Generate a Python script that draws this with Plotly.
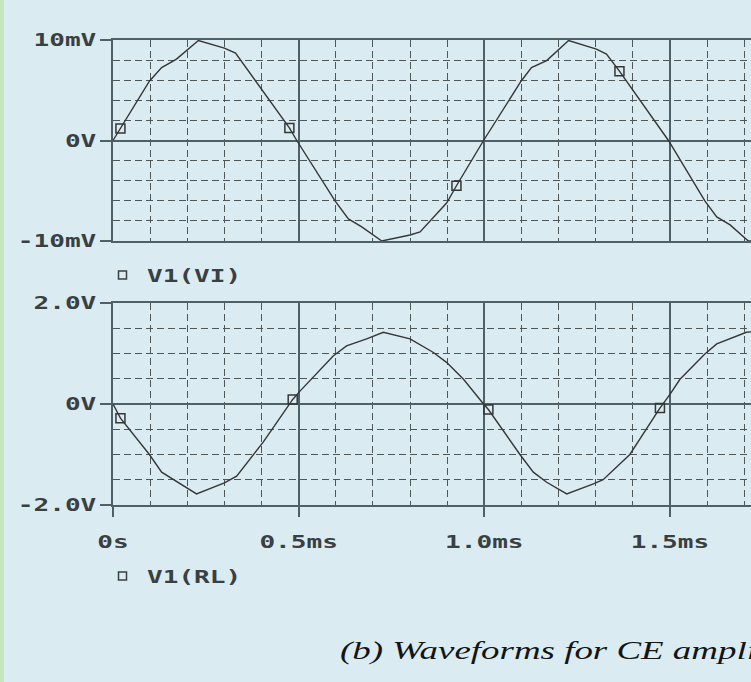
import plotly.graph_objects as go

# ---- data (time in ms) ----
t_vi = [0.000, 0.020, 0.098, 0.131, 0.171, 0.230, 0.300, 0.330, 0.475, 0.495,
        0.598, 0.634, 0.670, 0.724, 0.800, 0.827, 0.899, 0.925, 0.998,
        1.099, 1.127, 1.168, 1.227, 1.302, 1.329, 1.364, 1.496, 1.594,
        1.626, 1.662, 1.711, 1.720]
v_vi = [0.0, 1.2, 5.9, 7.25, 8.1, 9.95, 9.2, 8.7, 1.25, 0.0,
        -6.0, -7.8, -8.6, -10.0, -9.4, -9.1, -6.2, -4.5, 0.0,
        5.9, 7.25, 7.95, 9.95, 9.1, 8.6, 6.9, 0.0, -6.0,
        -7.6, -8.4, -10.0, -10.0]
mk_t_vi = [0.020, 0.475, 0.925, 1.364]
mk_v_vi = [1.2, 1.25, -4.5, 6.9]

t_rl = [0.000, 0.020, 0.098, 0.131, 0.225, 0.300, 0.333, 0.405, 0.484, 0.503,
        0.593, 0.629, 0.683, 0.728, 0.800, 0.863, 0.899, 0.944, 0.998,
        1.011, 1.096, 1.132, 1.168, 1.222, 1.294, 1.320, 1.392, 1.473,
        1.500, 1.527, 1.594, 1.626, 1.706, 1.720]
v_rl = [0.0, -0.28, -1.0, -1.35, -1.78, -1.56, -1.43, -0.75, 0.09, 0.25,
        0.95, 1.15, 1.29, 1.42, 1.29, 1.02, 0.82, 0.49, 0.0,
        -0.11, -1.0, -1.35, -1.55, -1.78, -1.58, -1.5, -1.0, -0.08,
        0.19, 0.49, 0.99, 1.19, 1.42, 1.43]
mk_t_rl = [0.020, 0.484, 1.011, 1.473]
mk_v_rl = [-0.28, 0.09, -0.11, -0.08]

x_tickvals = [0, 0.5, 1.0, 1.5]
x_ticktext = ["0s", "0.5ms", "1.0ms", "1.5ms"]
y1_tickvals = [-10, 0, 10]
y1_ticktext = ["-10mV", "0V", "10mV"]
y2_tickvals = [-2, 0, 2]
y2_ticktext = ["-2.0V", "0V", "2.0V"]
legend_names = ["V1(VI)", "V1(RL)"]
caption = "(b) Waveforms for CE amplifier"

# ---- styling ----
W, H = 751, 682
BG = "#daecf2"
SOLID = "#4e6168"
DASH = "#4f5858"
TRACE = "#363636"
TXT = "#3a3f41"
MONO = "DejaVu Sans Mono"

XL = 113 / W
x_range = [0, (W - XL * W) / 371.3]

def py(p):
    return 1 - p / H

fig = go.Figure()
fig.add_trace(go.Scatter(x=t_vi, y=v_vi, mode="lines", line=dict(color=TRACE, width=1.4),
                         xaxis="x", yaxis="y", showlegend=False, hoverinfo="skip"))
fig.add_trace(go.Scatter(x=mk_t_vi, y=mk_v_vi, mode="markers",
                         marker=dict(symbol="square-open", size=9, color=TRACE, line=dict(width=1.5)),
                         xaxis="x", yaxis="y", showlegend=False, hoverinfo="skip"))
fig.add_trace(go.Scatter(x=t_rl, y=v_rl, mode="lines", line=dict(color=TRACE, width=1.4),
                         xaxis="x2", yaxis="y2", showlegend=False, hoverinfo="skip"))
fig.add_trace(go.Scatter(x=mk_t_rl, y=mk_v_rl, mode="markers",
                         marker=dict(symbol="square-open", size=9, color=TRACE, line=dict(width=1.5)),
                         xaxis="x2", yaxis="y2", showlegend=False, hoverinfo="skip"))

def xax(show_labels):
    d = dict(domain=[XL, 1], range=x_range, tickvals=x_tickvals, ticktext=x_ticktext,
             showticklabels=show_labels, showgrid=True, gridcolor=SOLID, gridwidth=1.6,
             zeroline=False, showline=True, linecolor=SOLID, linewidth=2, mirror=True,
             automargin=False,
             minor=dict(dtick=0.1, tick0=0, showgrid=True, gridcolor=DASH, gridwidth=1.4,
                        griddash="7px,4px", ticks=""),
             fixedrange=True)
    if show_labels:
        d.update(ticks="outside", ticklen=10, tickwidth=1.6, tickcolor=SOLID,
                 tickfont=dict(family=MONO, size=18, color=TXT, weight="bold"),
                 ticklabelstandoff=9)
    else:
        d.update(ticks="")
    return d

def yax(dom, rng, tv, tt, mdt, anchor):
    return dict(domain=dom, range=rng, tickvals=tv, ticktext=tt, anchor=anchor,
                showgrid=True, gridcolor=SOLID, gridwidth=1.6,
                zeroline=True, zerolinecolor=SOLID, zerolinewidth=1.6,
                showline=True, linecolor=SOLID, linewidth=2, automargin=False,
                ticks="outside", ticklen=11, tickwidth=1.6, tickcolor=SOLID,
                tickfont=dict(family=MONO, size=18, color=TXT, weight="bold"),
                ticklabelstandoff=0,
                minor=dict(dtick=mdt, tick0=0, showgrid=True, gridcolor=DASH, gridwidth=1.4,
                           griddash="7px,4px", ticks=""),
                fixedrange=True)

fig.update_layout(
    width=W, height=H, autosize=False,
    margin=dict(l=0, r=0, t=0, b=0, pad=0, autoexpand=False),
    paper_bgcolor=BG, plot_bgcolor=BG,
    xaxis=xax(False) | dict(anchor="y"),
    yaxis=yax([py(241), py(40)], [-10, 10], y1_tickvals, y1_ticktext, 2, "x"),
    xaxis2=xax(True) | dict(anchor="y2"),
    yaxis2=yax([py(505), py(303)], [-2, 2], y2_tickvals, y2_ticktext, 0.5, "x2"),
    showlegend=False,
)

# legend-like labels
for name, ypix in zip(legend_names, [275, 576]):
    fig.add_shape(type="rect", xref="paper", yref="paper",
                  xsizemode="pixel", ysizemode="pixel",
                  xanchor=122.5 / W, yanchor=py(ypix),
                  x0=-4, x1=4, y0=-4, y1=4,
                  line=dict(color=TXT, width=1.5), fillcolor="rgba(0,0,0,0)")
    fig.add_annotation(xref="paper", yref="paper", x=145 / W, y=py(ypix),
                       xanchor="left", yanchor="middle", align="left", showarrow=False,
                       text=name, font=dict(family=MONO, size=18, color=TXT, weight="bold"))

# left pale green strip
fig.add_shape(type="rect", xref="paper", yref="paper", x0=0, x1=4 / W, y0=0, y1=1,
              line=dict(width=0), fillcolor="#c8e6bc", layer="below")

fig.add_annotation(xref="paper", yref="paper", x=338 / W, y=py(650),
                   xanchor="left", yanchor="middle", align="left", showarrow=False, text=caption,
                   font=dict(family="Liberation Serif", size=26, color="#141414", style="italic"))

# Remove default page margin; the reference picture is stretched horizontally,
# so widen the glyphs to match.
post = """
document.documentElement.style.margin='0';
document.body.style.margin='0';
document.body.style.padding='0';
var gd=document.getElementById('{plot_id}');
gd.querySelectorAll('text').forEach(function(el){
  var ff=(el.style.fontFamily||'');
  var s=0;
  if(ff.indexOf('Mono')>=0){ s=1.45; }
  else if(ff.indexOf('Serif')>=0){ s=1.42; }
  if(!s){ return; }
  var b=el.getBBox();
  var a=el.getAttribute('text-anchor')||'start';
  var p=(a==='end')?(b.x+b.width):((a==='middle')?(b.x+b.width/2):b.x);
  var old=el.getAttribute('transform')||'';
  el.setAttribute('transform', old+' translate('+p+',0) scale('+s+',1) translate('+(-p)+',0)');
});
"""
fig.write_html("out.html", post_script=post, config={"displayModeBar": False})
